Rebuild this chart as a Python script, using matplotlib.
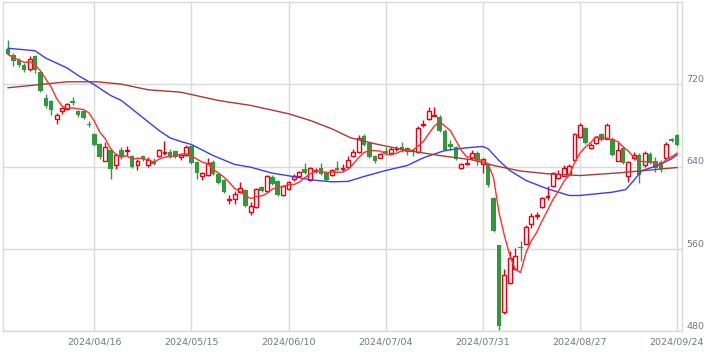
import numpy as np
import pandas as pd
import matplotlib
matplotlib.use("Agg")
import matplotlib.pyplot as plt
from matplotlib.patches import Rectangle

#--------------------------------------------------------------------------------------------------
# daily candles, 2024/03/25 .. 2024/09/24 (Tokyo trading days)

holidays = ['2024-04-29', '2024-05-03', '2024-05-06', '2024-07-15',
            '2024-08-12', '2024-09-16', '2024-09-23']
dates = pd.bdate_range('2024-03-25', '2024-09-24', freq='C', holidays=holidays)

opens = [754, 748, 744, 739, 735, 747, 732, 707, 704, 686,
         694, 696, 704, 694, 694, 681, 672, 662, 645, 656,
         641, 656, 655, 650, 641, 650, 641, 645, 650, 653,
         654, 655, 649, 651, 660, 644, 631, 632, 644, 633,
         627, 607, 608, 615, 617, 596, 601, 620, 616, 630,
         626, 612, 618, 628, 631, 638, 627, 636, 639, 635,
         632, 639, 638, 640, 650, 654, 670, 663, 650, 648,
         655, 653, 657, 659, 658, 656, 654, 680, 686, 689,
         688, 675, 662, 659, 639, 642, 648, 653, 642, 642,
         609, 564, 498, 527, 540, 562, 565, 584, 592, 601,
         610, 621, 629, 631, 633, 646, 669, 677, 658, 663,
         672, 667, 667, 645, 658, 631, 648, 651, 641, 652,
         645, 644, 648, 667, 671]
highs = [763, 750, 746, 741, 747, 748, 733, 711, 705, 692,
         698, 702, 708, 695, 695, 684, 673, 663, 664, 657,
         653, 659, 660, 651, 647, 651, 649, 648, 657, 665,
         657, 656, 652, 661, 661, 645, 635, 648, 646, 634,
         628, 612, 616, 625, 618, 605, 619, 621, 632, 632,
         627, 622, 626, 633, 636, 643, 640, 639, 643, 636,
         638, 645, 642, 650, 657, 671, 672, 664, 651, 653,
         659, 659, 660, 664, 659, 657, 679, 685, 698, 698,
         690, 676, 666, 660, 643, 648, 656, 655, 648, 643,
         610, 564, 540, 558, 561, 568, 583, 595, 596, 610,
         621, 635, 637, 641, 642, 673, 682, 678, 663, 670,
         673, 682, 669, 664, 660, 645, 654, 653, 655, 654,
         649, 646, 664, 668, 672]
lows = [748, 738, 737, 732, 733, 731, 712, 697, 690, 681,
        691, 695, 700, 688, 686, 678, 660, 647, 645, 628,
        638, 647, 650, 639, 637, 645, 640, 641, 649, 651,
        648, 648, 646, 650, 642, 628, 627, 631, 632, 623,
        614, 604, 604, 614, 601, 593, 600, 615, 615, 622,
        611, 611, 617, 626, 630, 633, 626, 634, 632, 626,
        631, 636, 635, 639, 649, 653, 660, 648, 643, 648,
        652, 652, 655, 654, 651, 650, 653, 678, 685, 689,
        674, 655, 656, 646, 638, 641, 647, 641, 634, 620,
        576, 481, 497, 526, 540, 548, 565, 580, 589, 600,
        607, 620, 628, 631, 632, 645, 668, 662, 657, 662,
        665, 667, 650, 645, 642, 625, 646, 624, 640, 642,
        635, 635, 647, 664, 660]
closes = [749, 743, 739, 734, 745, 734, 713, 699, 695, 690,
          697, 701, 702, 690, 687, 680, 661, 649, 659, 638,
          651, 649, 656, 640, 645, 647, 646, 642, 656, 654,
          650, 649, 651, 659, 643, 634, 634, 643, 633, 624,
          615, 608, 613, 619, 602, 602, 618, 616, 631, 623,
          612, 621, 625, 631, 635, 634, 639, 637, 633, 627,
          637, 637, 639, 646, 654, 668, 661, 649, 645, 652,
          653, 657, 658, 656, 654, 654, 677, 681, 694, 690,
          675, 656, 659, 647, 642, 643, 653, 646, 647, 622,
          577, 485, 534, 551, 553, 561, 581, 592, 593, 609,
          611, 634, 633, 639, 640, 672, 680, 663, 661, 669,
          666, 680, 651, 656, 643, 644, 651, 632, 653, 643,
          639, 638, 662, 665, 661]

# 25 day / 75 day averages (candle index, price)
ma25_idx = [0, 5, 7, 11, 13, 16, 19, 21, 28, 30, 32, 34, 38, 42, 45, 49, 52, 56, 60, 63,
            66, 70, 74, 77, 81, 85, 88, 89, 91, 93, 96, 100, 104, 106, 112, 114.5, 116, 117.5,
            120.5, 123, 124]
ma25_val = [755, 752.6, 745.4, 735.7, 728.5, 719.5, 709.1, 704.2, 675, 667.9, 664.3, 661.4,
            650.7, 642, 639.3, 633.5, 631, 627.1, 625.1, 625.5, 630.3, 636.1, 641, 648.5,
            655.6, 658.2, 659.5, 657.2, 645.8, 636.1, 626.4, 618.3, 611.8, 611.8, 615, 617.6,
            626.4, 636.1, 641, 647.5, 651.4]
ma75_idx = [0, 6, 11, 16.5, 21, 26, 32, 39, 45, 52, 56, 60, 63.5, 68, 74, 80, 86, 90, 95,
            100, 106, 113.5, 124]
ma75_val = [716.6, 719.8, 722.4, 722.4, 720.1, 714.6, 712.3, 704.2, 699.4, 691.3, 684.8,
            676.7, 667.9, 662.1, 655.6, 650.7, 646.5, 641, 635.6, 632.9, 631.2, 633.9, 639]

tick_dates = ['2024/04/16', '2024/05/15', '2024/06/10', '2024/07/04',
              '2024/07/31', '2024/08/27', '2024/09/24']
price_ticks = [480, 560, 640, 720]

#--------------------------------------------------------------------------------------------------

up_col = '#e60012'
down_col = '#2f9a3c'
grid_col = '#dadada'

fig = plt.figure(figsize=(7.22, 3.54), dpi=100)
ax = fig.add_axes([3 / 722, 23 / 354, 679 / 722, 329 / 354])

x = np.arange(len(dates))
for i in x:
    o, h, l, c = opens[i], highs[i], lows[i], closes[i]
    if c >= o:
        ax.vlines(i, l, h, color=up_col, lw=1.0, zorder=2)
        ax.add_patch(Rectangle((i - 0.36, o), 0.72, max(c - o, 0.6), facecolor='white',
                               edgecolor=up_col, lw=1.0, zorder=3))
    else:
        ax.vlines(i, l, h, color=down_col, lw=1.0, zorder=2)
        ax.add_patch(Rectangle((i - 0.42, c), 0.84, o - c, facecolor=down_col,
                               edgecolor='none', zorder=3))

ma5 = pd.Series(closes).rolling(5, min_periods=1).mean()
ax.plot(ma25_idx, ma25_val, color='#3b3bff', lw=1.0, zorder=4)
ax.plot(ma75_idx, ma75_val, color='#a83a3a', lw=1.0, zorder=4)
ax.plot(x, ma5, color='#ff3030', lw=1.0, zorder=5)

ax.set_xlim(-0.93, len(dates) - 0.07)
ax.set_ylim(480, 800)

labels = [d.strftime('%Y/%m/%d') for d in dates]
tick_pos = [labels.index(t) for t in tick_dates]
ax.set_xticks(tick_pos)
ax.set_xticklabels(tick_dates)
ax.set_yticks(price_ticks)
ax.yaxis.tick_right()
ax.tick_params(length=0, labelsize=6.8, colors='#707a88')
ax.tick_params(axis='x', pad=5)
ax.tick_params(axis='y', pad=3)
for lab in ax.get_yticklabels():
    lab.set_va('bottom')

ax.grid(True, color=grid_col, lw=1.0, zorder=0)
ax.set_axisbelow(True)
for s in ax.spines.values():
    s.set_color(grid_col)
    s.set_linewidth(1.0)

plt.savefig('out.png', dpi=100)
